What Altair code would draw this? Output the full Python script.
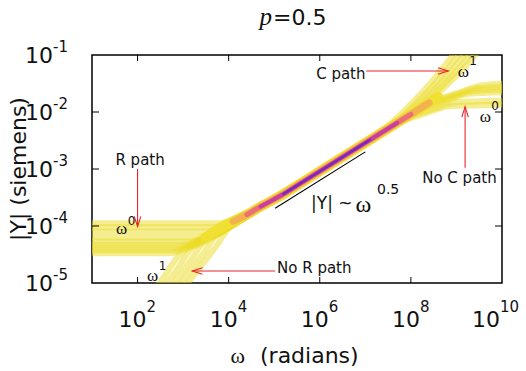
import altair as alt
import pandas as pd

# All curve values are in decades: log10(omega / rad) and log10(|Y| / S).

# Conductive (R) path present: flat |Y| at low frequency, then onto the omega^0.5 trend
R_PATH_LOGW = [
    [1.0, 3.80, 4.20, 4.70, 5.2],
    [1.0, 3.65, 4.05, 4.55, 5.1],
    [1.0, 3.50, 3.90, 4.40, 5.0],
    [1.0, 3.30, 3.70, 4.20, 4.8],
    [1.0, 3.15, 3.55, 4.05, 4.7],
    [1.0, 3.00, 3.45, 3.95, 4.6],
    [1.0, 2.90, 3.35, 3.85, 4.5],
    [1.0, 2.80, 3.25, 3.75, 4.4],
    [1.0, 2.70, 3.15, 3.65, 4.3],
]
R_PATH_LOGY = [
    [-3.95, -3.95, -3.84, -3.67, -3.44],
    [-4.02, -4.02, -3.91, -3.74, -3.49],
    [-4.10, -4.10, -3.99, -3.82, -3.54],
    [-4.20, -4.20, -4.09, -3.92, -3.64],
    [-4.27, -4.27, -4.16, -3.99, -3.69],
    [-4.33, -4.33, -4.21, -4.04, -3.74],
    [-4.38, -4.38, -4.26, -4.09, -3.79],
    [-4.43, -4.43, -4.31, -4.14, -3.84],
    [-4.48, -4.48, -4.36, -4.19, -3.89],
]

# No conductive path: capacitive omega^1 rise at low frequency
NO_R_LOGW = [
    [2.30, 2.52, 2.97, 3.42, 4.0],
    [2.45, 2.82, 3.27, 3.72, 4.2],
    [2.60, 3.12, 3.57, 4.02, 4.5],
    [2.75, 3.42, 3.87, 4.32, 4.8],
    [2.90, 3.72, 4.17, 4.62, 5.0],
]
NO_R_LOGY = [
    [-5.20, -4.96, -4.46, -4.30, -4.04],
    [-5.20, -4.81, -4.31, -4.15, -3.94],
    [-5.20, -4.66, -4.16, -4.00, -3.79],
    [-5.20, -4.51, -4.01, -3.85, -3.64],
    [-5.20, -4.36, -3.86, -3.70, -3.54],
]

# Capacitive (C) path at high frequency: omega^1 rise
C_PATH_LOGW = [
    [7.30, 7.80, 8.30, 9.30],
    [7.55, 8.05, 8.55, 9.40],
    [7.80, 8.30, 8.80, 9.50],
    [8.05, 8.55, 9.05, 9.65],
    [8.30, 8.80, 9.30, 9.80],
]
C_PATH_LOGY = [
    [-2.39, -2.02, -1.61, -0.61],
    [-2.27, -1.90, -1.49, -0.64],
    [-2.14, -1.77, -1.36, -0.66],
    [-2.02, -1.65, -1.24, -0.64],
    [-1.89, -1.52, -1.11, -0.61],
]

# No capacitive path at high frequency: |Y| levels off
NO_C_LOGW = [
    [8.58, 9.08, 9.58, 10.2],
    [8.48, 8.98, 9.48, 10.2],
    [8.38, 8.88, 9.38, 10.2],
    [8.28, 8.78, 9.28, 10.2],
    [7.98, 8.48, 8.98, 10.2],
    [7.84, 8.34, 8.84, 10.2],
]
NO_C_LOGY = [
    [-1.78, -1.65, -1.53, -1.50],
    [-1.83, -1.70, -1.58, -1.55],
    [-1.88, -1.75, -1.63, -1.60],
    [-1.93, -1.80, -1.68, -1.65],
    [-2.08, -1.95, -1.83, -1.80],
    [-2.15, -2.02, -1.90, -1.87],
]

# Shared omega^0.5 band where all realisations overlap
BAND_LOGW = [3.5, 3.8, 4.1, 4.4, 4.7, 5.2, 5.6, 6.0, 6.5, 7.1, 7.5, 7.7, 8.0, 8.2, 8.4, 8.6]
BAND_LOGY = [-4.20, -4.04, -3.92, -3.80, -3.66, -3.44, -3.24, -3.04, -2.79, -2.49,
             -2.29, -2.19, -2.04, -1.94, -1.84, -1.74]

# Reference slope-0.5 guide
GUIDE_LOGW = [5.02, 7.00]
GUIDE_LOGY = [-3.69, -2.70]

# Annotation arrows (start -> head) and head direction in degrees
ARROW_LOGW = [2.00, 5.02, 7.02, 9.19]
ARROW_LOGY = [-3.00, -4.79, -1.28, -2.98]
ARROW_LOGW2 = [2.00, 3.20, 8.82, 9.19]
ARROW_LOGY2 = [-4.01, -4.79, -1.28, -1.91]
ARROW_HEADING = [90, 180, 0, 270]

# Text labels
NOTE_TEXT = ["R path", "No R path", "C path", "No C path"]
NOTE_LOGW = [2.055, 5.879, 6.462, 9.066]
NOTE_LOGY = [-2.842, -4.737, -1.333, -3.158]

OMEGA_LOGW = [1.648, 2.330, 9.154, 9.637]
OMEGA_LOGY = [-4.050, -4.877, -1.290, -2.079]
POWER_TEXT = ["0", "1", "1", "0"]
POWER_LOGW = [1.868, 2.549, 9.363, 9.846]
POWER_LOGY = [-3.912, -4.700, -1.105, -1.895]

X_TICK_EXP = [2, 4, 6, 8, 10]
Y_TICK_EXP = [-1, -2, -3, -4, -5]

W, H = 410, 228
RED = "#e8262b"
SANS = "DejaVu Sans"
SERIF = "Liberation Serif"

XS = alt.Scale(type="log", domain=[1e1, 1e10], nice=False)
YS = alt.Scale(type="log", domain=[1e-5, 1e-1], nice=False)


def xenc(field="omega"):
    return alt.X(f"{field}:Q", scale=XS, axis=None)


def yenc(field="Y"):
    return alt.Y(f"{field}:Q", scale=YS, axis=None)


def curves_frame(group, logw_lists, logy_lists):
    rows = []
    for i, (ws, ys) in enumerate(zip(logw_lists, logy_lists)):
        for k, (a, b) in enumerate(zip(ws, ys)):
            rows.append({"curve": f"{group}-{i}", "k": k, "omega": 10.0 ** a, "Y": 10.0 ** b})
    return pd.DataFrame(rows)


def points_frame(logw, logy, **extra):
    df = pd.DataFrame({"omega": [10.0 ** a for a in logw], "Y": [10.0 ** b for b in logy]})
    for key, val in extra.items():
        df[key] = val
    return df


tails = pd.concat([
    curves_frame("r", R_PATH_LOGW, R_PATH_LOGY),
    curves_frame("nr", NO_R_LOGW, NO_R_LOGY),
    curves_frame("c", C_PATH_LOGW, C_PATH_LOGY),
    curves_frame("nc", NO_C_LOGW, NO_C_LOGY),
], ignore_index=True)

tail_layer = alt.Chart(tails).mark_line(
    clip=True, color="#ecdc24", strokeWidth=6, opacity=0.5,
    interpolate="monotone", strokeCap="round", strokeJoin="round",
).encode(x=xenc(), y=yenc(), detail="curve:N", order="k:Q")

band = points_frame(BAND_LOGW, BAND_LOGY, lw=BAND_LOGW, k=list(range(len(BAND_LOGW))))

# density shading of the overlapping band: (colour, width, from, to, dash)
band_style = [
    ("#efe031", 10, 3.5, 8.6, None),
    ("#f4b14f", 7, 4.1, 8.4, None),
    ("#ea6f76", 5, 4.4, 8.0, None),
    ("#c8409e", 4, 4.7, 7.7, None),
    ("#7a28b8", 2.6, 5.2, 7.1, [4, 2]),
]
band_layers = []
for tone, width, lo, hi, dash in band_style:
    sub = band[(band["lw"] >= lo) & (band["lw"] <= hi)]
    kw = dict(clip=True, color=tone, strokeWidth=width, strokeCap="round",
              strokeJoin="round", interpolate="monotone")
    if dash:
        kw["strokeDash"] = dash
    band_layers.append(
        alt.Chart(sub).mark_line(**kw).encode(x=xenc(), y=yenc(), order="k:Q")
    )

guide = alt.Chart(points_frame(GUIDE_LOGW, GUIDE_LOGY)).mark_line(
    color="black", strokeWidth=1.1
).encode(x=xenc(), y=yenc())

arrows = pd.DataFrame({
    "omega": [10.0 ** a for a in ARROW_LOGW],
    "Y": [10.0 ** b for b in ARROW_LOGY],
    "omega2": [10.0 ** a for a in ARROW_LOGW2],
    "Y2": [10.0 ** b for b in ARROW_LOGY2],
    "heading": ARROW_HEADING,
})
arrow_shafts = alt.Chart(arrows).mark_rule(color=RED, strokeWidth=1.1).encode(
    x=xenc(), y=yenc(), x2="omega2:Q", y2="Y2:Q"
)
arrow_heads = alt.Chart(arrows).mark_point(
    shape="M-1,-0.32L0,0L-1,0.32", filled=False, size=420,
    color=RED, strokeWidth=1.1, opacity=1,
).encode(x=xenc("omega2"), y=yenc("Y2"), angle=alt.Angle("heading:Q", scale=None))

notes = alt.Chart(points_frame(NOTE_LOGW, NOTE_LOGY, t=NOTE_TEXT)).mark_text(
    font=SANS, fontSize=15, align="center", baseline="middle", color="#111"
).encode(x=xenc(), y=yenc(), text="t:N")

omegas = alt.Chart(points_frame(OMEGA_LOGW, OMEGA_LOGY, t=["ω"] * 4)).mark_text(
    font=SERIF, fontSize=17, align="center", baseline="middle", color="#111"
).encode(x=xenc(), y=yenc(), text="t:N")

powers = alt.Chart(points_frame(POWER_LOGW, POWER_LOGY, t=POWER_TEXT)).mark_text(
    font=SANS, fontSize=12, align="center", baseline="middle", color="#111"
).encode(x=xenc(), y=yenc(), text="t:N")

slope_sans = alt.Chart(points_frame([6.264], [-3.614], t=["|Y| ~"])).mark_text(
    font=SANS, fontSize=17, align="center", baseline="middle", color="#111"
).encode(x=xenc(), y=yenc(), text="t:N")
slope_omega = alt.Chart(points_frame([6.96], [-3.63], t=["ω"])).mark_text(
    font=SERIF, fontSize=24, align="center", baseline="middle", color="#111"
).encode(x=xenc(), y=yenc(), text="t:N")
slope_pow = alt.Chart(points_frame([7.50], [-3.368], t=["0.5"])).mark_text(
    font=SANS, fontSize=14, align="center", baseline="middle", color="#111"
).encode(x=xenc(), y=yenc(), text="t:N")

# inward ticks on all four sides
xt = pd.DataFrame({"omega": [10.0 ** e for e in X_TICK_EXP],
                   "base": ["10"] * len(X_TICK_EXP),
                   "exp": [str(e) for e in X_TICK_EXP]})
yt = pd.DataFrame({"Y": [10.0 ** e for e in Y_TICK_EXP],
                   "base": ["10"] * len(Y_TICK_EXP),
                   "exp": [str(e) for e in Y_TICK_EXP]})
xt_inner = xt[xt["omega"] < 1e10]
yt_inner = yt[(yt["Y"] < 1e-1) & (yt["Y"] > 1e-5)]

tick_layers = [
    alt.Chart(xt_inner).mark_rule(color="black", strokeWidth=1).encode(
        x=xenc(), y=alt.value(H), y2=alt.value(H - 6)),
    alt.Chart(xt_inner).mark_rule(color="black", strokeWidth=1).encode(
        x=xenc(), y=alt.value(0), y2=alt.value(6)),
    alt.Chart(yt_inner).mark_rule(color="black", strokeWidth=1).encode(
        y=yenc(), x=alt.value(0), x2=alt.value(7)),
    alt.Chart(yt_inner).mark_rule(color="black", strokeWidth=1).encode(
        y=yenc(), x=alt.value(W), x2=alt.value(W - 7)),
]

xt_main = xt[xt["omega"] < 1e10]
xt_last = xt[xt["omega"] >= 1e10]
label_layers = [
    alt.Chart(xt_main).mark_text(font=SANS, fontSize=22, align="right", baseline="middle",
                                 dx=9, color="#111").encode(
        x=xenc(), y=alt.value(H + 37), text="base:N"),
    alt.Chart(xt_main).mark_text(font=SANS, fontSize=15, align="left", baseline="middle",
                                 dx=9, color="#111").encode(
        x=xenc(), y=alt.value(H + 24), text="exp:N"),
    alt.Chart(xt_last).mark_text(font=SANS, fontSize=22, align="right", baseline="middle",
                                 dx=-2, color="#111").encode(
        x=xenc(), y=alt.value(H + 37), text="base:N"),
    alt.Chart(xt_last).mark_text(font=SANS, fontSize=15, align="left", baseline="middle",
                                 dx=-2, color="#111").encode(
        x=xenc(), y=alt.value(H + 24), text="exp:N"),
    alt.Chart(yt).mark_text(font=SANS, fontSize=22, align="right", baseline="middle",
                            dy=1, color="#111").encode(
        y=yenc(), x=alt.value(-39), text="base:N"),
    alt.Chart(yt).mark_text(font=SANS, fontSize=15, align="left", baseline="middle",
                            dy=-8, color="#111").encode(
        y=yenc(), x=alt.value(-39), text="exp:N"),
]


def label(text, x, y, font, size, align="left", baseline="alphabetic", angle=0, style="normal"):
    kw = dict(font=font, fontSize=size, align=align, baseline=baseline,
              color="#111", fontStyle=style)
    if angle:
        kw["angle"] = angle
    return alt.Chart(pd.DataFrame({"t": [text]})).mark_text(**kw).encode(
        text="t:N", x=alt.value(x), y=alt.value(y))


frame_text = [
    label("p", 180, -30, SERIF, 25, align="right", style="italic"),
    label("=0.5", 181, -30, SANS, 22),
    label("ω", 153, 308, SERIF, 22, align="right"),
    label("(radians)", 168, 308, SANS, 22),
    label("|Y| (siemens)", -73, H / 2, SANS, 22, align="center", baseline="middle", angle=270),
]

chart = alt.layer(
    tail_layer, *band_layers, guide, arrow_shafts, arrow_heads,
    notes, omegas, powers, slope_sans, slope_omega, slope_pow,
    *tick_layers, *label_layers, *frame_text,
).properties(
    width=W, height=H,
    autosize=alt.AutoSizeParams(type="none"),
    padding={"left": 92, "top": 55, "right": 24, "bottom": 88},
    background="white",
).configure_view(stroke="black", strokeWidth=1.5)

chart.save("out.html", embed_options={"renderer": "svg", "actions": False})
